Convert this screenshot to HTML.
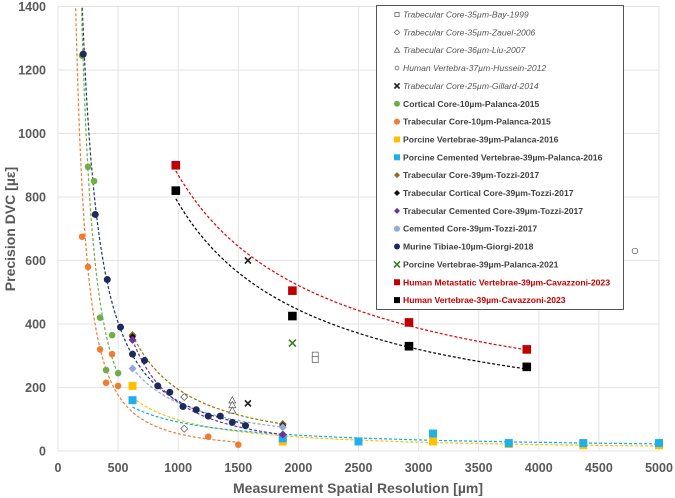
<!DOCTYPE html>
<html><head><meta charset="utf-8"><style>
body{margin:0;background:#fff;width:675px;height:498px;overflow:hidden;font-family:"Liberation Sans",sans-serif}
svg{display:block}
.tk{font-size:12.5px;font-weight:bold;fill:#595959}
.lg{font-size:8.6px;fill:#404040}
</style></head><body>
<svg id="c" width="675" height="498"></svg>
<script>
const xTicks=[0,500,1000,1500,2000,2500,3000,3500,4000,4500,5000];
const yTicks=[0,200,400,600,800,1000,1200,1400];
const murineX=[210,310,410,520,620,720,830,930,1040,1150,1250,1350,1450,1560];
const murineY=[1250,745,540,390,305,285,205,185,140,130,110,110,90,80];
const corticalX=[200,250,300,350,400,450,500];
const corticalY=[1245,895,850,420,255,365,245];
const trabX=[200,250,350,400,450,500,1250,1500];
const trabY=[675,580,320,215,305,205,45,20];
const porcX=[620,1870,3120,3750,4370,5000];
const porcY=[205,30,30,22,18,18];
const cemX=[620,1870,2500,3120,3750,4370,5000];
const cemY=[160,40,30,55,25,25,25];
const tozTrabX=[620,1870], tozTrabY=[365,85];
const tozCortX=[620,1870], tozCortY=[360,80];
const tozCemTrabX=[620,1870], tozCemTrabY=[350,52];
const tozCemX=[620,1870], tozCemY=[260,75];
const metX=[980,1950,2920,3900], metY=[900,505,405,320];
const humX=[980,1950,2920,3900], humY=[820,425,330,265];
const pv21X=[1950], pv21Y=[340];
const gilX=[1580,1580], gilY=[600,150];
const bayX=[2140,2140], bayY=[302,288];
const zauX=[1050,1050], zauY=[170,70];
const liuX=[1450,1450,1450], liuY=[160,145,128];
const husX=[4800], husY=[630];
const legendLabels=["Trabecular Core-35µm-Bay-1999","Trabecular Core-35µm-Zauel-2006","Trabecular Core-36µm-Liu-2007","Human Vertebra-37µm-Hussein-2012","Trabecular Core-25µm-Gillard-2014","Cortical Core-10µm-Palanca-2015","Trabecular Core-10µm-Palanca-2015","Porcine Vertebrae-39µm-Palanca-2016","Porcine Cemented Vertebrae-39µm-Palanca-2016","Trabecular Core-39µm-Tozzi-2017","Trabecular Cortical Core-39µm-Tozzi-2017","Trabecular Cemented Core-39µm-Tozzi-2017","Cemented Core-39µm-Tozzi-2017","Murine Tibiae-10µm-Giorgi-2018","Porcine Vertebrae-39µm-Palanca-2021","Human Metastatic Vertebrae-39µm-Cavazzoni-2023","Human Vertebrae-39µm-Cavazzoni-2023"];

const svg=document.getElementById('c'),NS='http://www.w3.org/2000/svg';
const X0=58,Y0=451,SX=0.1202,SY=444.5/1400;
const xp=v=>X0+v*SX, yp=v=>Y0-v*SY;
function mk(t,a,p){const e=document.createElementNS(NS,t);for(const k in a)e.setAttribute(k,a[k]);(p||svg).appendChild(e);return e;}
xTicks.forEach(v=>{const l=mk('line',{x1:xp(v),x2:xp(v),y1:yp(0),y2:yp(1400),stroke:'#e3e3e3'});


const t=mk('text',{x:xp(v),y:472,'text-anchor':'middle',class:'tk'});t.textContent=v;

});
yTicks.forEach(v=>{const l=mk('line',{x1:xp(0),x2:xp(5000),y1:yp(v),y2:yp(v),stroke:'#e3e3e3'});


const t=mk('text',{x:46,y:yp(v)+4.5,'text-anchor':'end',class:'tk'});t.textContent=v;

});
const xt=mk('text',{x:358,y:493,'text-anchor':'middle',style:'font-size:14px;font-weight:bold;fill:#595959'});xt.textContent='Measurement Spatial Resolution [µm]';


const yt=mk('text',{transform:'translate(15,229) rotate(-90)','text-anchor':'middle',style:'font-size:14px;font-weight:bold;fill:#595959'});yt.textContent='Precision DVC [µε]';


const clip=mk('clipPath',{id:'pc'});mk('rect',{x:X0,y:yp(1400),width:xp(5000)-X0,height:Y0-yp(1400)},clip);
function fit(xs,ys,col,x1,x2,name){
  const n=xs.length;let sx=0,sy=0,sxx=0,sxy=0;
  for(let i=0;i<n;i++){const a=Math.log(xs[i]),b=Math.log(ys[i]);sx+=a;sy+=b;sxx+=a*a;sxy+=a*b;}
  const b=(n*sxy-sx*sy)/(n*sxx-sx*sx),a=Math.exp((sy-b*sx)/n);
  let d='';for(let k=0;k<=160;k++){const x=x1+(x2-x1)*k/160;d+=(k?'L':'M')+xp(x).toFixed(1)+','+yp(a*Math.pow(x,b)).toFixed(1);}
  const p=mk('path',{d:d,fill:'none',stroke:col,'stroke-width':1.2,'stroke-dasharray':'3,2','clip-path':'url(#pc)'});
  
  
}
fit(murineX,murineY,'#1f3864',200,1560,'trend-murine');
fit(corticalX,corticalY,'#70ad47',180,500,'trend-cortical');
fit(trabX,trabY,'#ed7d31',140,1500,'trend-trabecular');
fit(porcX,porcY,'#ffc000',620,5000,'trend-porcine');
fit(cemX,cemY,'#00b0f0',620,5000,'trend-cemented');
fit(tozTrabX,tozTrabY,'#997300',620,1870,'trend-tozzi-trab');
fit(tozCemTrabX,tozCemTrabY,'#7030a0',620,1870,'trend-tozzi-cem-trab');
fit(tozCemX,tozCemY,'#8faadc',620,1870,'trend-tozzi-cem');
fit(metX,metY,'#e00000',980,3900,'trend-metastatic');
fit(humX,humY,'#000000',980,3900,'trend-human');
function marker(type,cx,cy,col,s,p){
  s=s||4;
  if(type==='circ')return mk('circle',{cx,cy,r:s,fill:col},p);
  if(type==='ocirc')return mk('circle',{cx,cy,r:s-0.7,fill:'#fff',stroke:'#555','stroke-width':0.7},p);
  if(type==='sq')return mk('rect',{x:cx-s,y:cy-s,width:2*s,height:2*s,fill:col},p);
  if(type==='osq')return mk('rect',{x:cx-s+0.5,y:cy-s+0.5,width:2*s-1,height:2*s-1,fill:'#fff',stroke:'#555','stroke-width':0.7},p);
  if(type==='dia')return mk('path',{d:`M${cx},${cy-s}L${cx+s},${cy}L${cx},${cy+s}L${cx-s},${cy}Z`,fill:col},p);
  if(type==='odia')return mk('path',{d:`M${cx},${cy-s}L${cx+s},${cy}L${cx},${cy+s}L${cx-s},${cy}Z`,fill:'#fff',stroke:'#555','stroke-width':0.7},p);
  if(type==='otri')return mk('path',{d:`M${cx},${cy-s}L${cx+s},${cy+s*0.8}L${cx-s},${cy+s*0.8}Z`,fill:'#fff',stroke:'#555','stroke-width':0.7},p);
  if(type==='x')return mk('path',{d:`M${cx-s},${cy-s}L${cx+s},${cy+s}M${cx+s},${cy-s}L${cx-s},${cy+s}`,stroke:col,'stroke-width':1.6},p);
}
function series(xs,ys,type,col,s,name){
  const g=mk('g',{});
  
  
  xs.forEach((x,i)=>{const m=marker(type,xp(x),yp(ys[i]),col,s,g);
    
    });
}
series(bayX,bayY,'osq','',3.5,'bay-1999');
series(zauX,zauY,'odia','',3.5,'zauel-2006');
series(liuX,liuY,'otri','',3.5,'liu-2007');
series(husX,husY,'ocirc','',3.5,'hussein-2012');
series(gilX,gilY,'x','#222',3,'gillard-2014');
series(corticalX,corticalY,'circ','#70ad47',3.3,'cortical-palanca-2015');
series(trabX,trabY,'circ','#ed7d31',3.3,'trabecular-palanca-2015');
series(porcX,porcY,'sq','#ffc000',4,'porcine-palanca-2016');
series(cemX,cemY,'sq','#1fb0ec',4,'porcine-cemented-palanca-2016');
series(tozTrabX,tozTrabY,'dia','#8c6d1f',4,'trab-tozzi-2017');
series(tozCortX,tozCortY,'dia','#111',3.5,'trab-cort-tozzi-2017');
series(tozCemTrabX,tozCemTrabY,'dia','#7030a0',4,'trab-cem-tozzi-2017');
series(tozCemX,tozCemY,'dia','#8faadc',4,'cem-tozzi-2017');
series(murineX,murineY,'circ','#1f2a5c',3.5,'murine-giorgi-2018');
series(pv21X,pv21Y,'x','#3a7d22',3.5,'porcine-palanca-2021');
series(metX,metY,'sq','#c00000',4.3,'metastatic-cavazzoni-2023');
series(humX,humY,'sq','#000',4.3,'human-cavazzoni-2023');
const lg=mk('g',{});


mk('rect',{x:376.5,y:5.5,width:247,height:304,fill:'#fff',stroke:'#555'},lg);
const lt=['osq','odia','otri','ocirc','x','circ','circ','sq','sq','dia','dia','dia','circ','circ','x','sq','sq'];
const lc=['','','','','#222','#70ad47','#ed7d31','#ffc000','#1fb0ec','#8c6d1f','#111','#7030a0','#8faadc','#1f2a5c','#3a7d22','#c00000','#000'];
legendLabels.forEach((t,i)=>{
  const y=14.5+i*17.85;
  const m=marker(lt[i],397,y,lc[i],i<5?2.6:3);
  
  
  const it=i<5,red=i>=15;
  const tx=mk('text',{x:403,y:y+3,class:'lg',style:(it?'font-style:italic;fill:#555;':'font-weight:bold;')+(red?'fill:#c00000;':'')},lg);
  tx.textContent=t;
  
  
});
</script>
</body></html>
